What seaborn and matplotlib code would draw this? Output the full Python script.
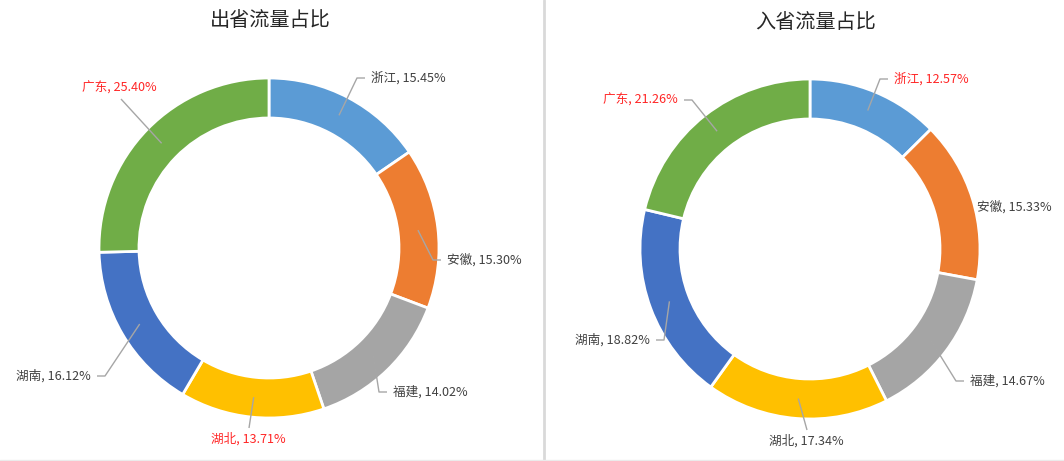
import numpy as np
import matplotlib
matplotlib.use("Agg")
import matplotlib.pyplot as plt
import seaborn as sns

# ---------------- data ----------------
provinces = ["浙江", "安徽", "福建", "湖北", "湖南", "广东"]
out_share = [15.45, 15.30, 14.02, 13.71, 16.12, 25.40]
in_share = [12.57, 15.33, 14.67, 17.34, 18.82, 21.26]
titles = ["出省流量占比", "入省流量占比"]
red_labels_out = ["广东", "湖北"]
red_labels_in = ["浙江", "广东"]

# ---------------- style ----------------
sns.set_theme(style="white")
plt.rcParams["font.family"] = ["Noto Sans CJK SC", "DejaVu Sans"]
colors = ["#5B9BD5", "#ED7D31", "#A5A5A5", "#FFC000", "#4472C4", "#70AD47"]

W, H = 1064, 461
fig = plt.figure(figsize=(W / 100, H / 100), dpi=100)
ax = fig.add_axes([0, 0, 1, 1])

R_OUT, R_IN = 170, 130
LEAD = "#A6A6A6"
TXT = "#404040"
RED = "#FF2626"

# layout (pixel coords from top-left): centre, title pos, label positions
layouts = [
    dict(center=(269, 248), title=(270, 21),
         labels=[(371, 78, "left", "h"), (447, 260, "left", "h"),
                 (393, 392, "left", "h"), (248, 439, "center", "v"),
                 (91, 376, "right", "h"), (157, 88, "right", "b")]),
    dict(center=(810, 249), title=(816, 23),
         labels=[(894, 79, "left", "h"), (977, 207, "left", None),
                 (970, 381, "left", "h"), (806, 441, "center", "v"),
                 (650, 340, "right", "h"), (678, 100, "right", "h")]),
]


def fy(y):
    return H - y


for values, title, reds, lay in zip([out_share, in_share], titles,
                                    [red_labels_out, red_labels_in], layouts):
    cx, cy = lay["center"]
    ax.pie(values, colors=colors, startangle=90, counterclock=False,
           radius=R_OUT, center=(cx, fy(cy)), frame=True,
           wedgeprops=dict(width=R_OUT - R_IN, edgecolor="white", linewidth=2))
    ax.text(lay["title"][0], fy(lay["title"][1]), title, ha="center", va="center",
            fontsize=14.5, color="#262626")
    total = sum(values)
    cum = 0.0
    for name, v, (tx, ty, ha, mode) in zip(provinces, values, lay["labels"]):
        mid = 90 - (cum + v / 2) / total * 360
        cum += v
        rm = (R_OUT + R_IN) / 2
        sx = cx + rm * np.cos(np.radians(mid))
        sy = cy - rm * np.sin(np.radians(mid))
        col = RED if name in reds else TXT
        ax.text(tx, fy(ty), f"{name}, {v:.2f}%", ha=ha, va="center",
                fontsize=9.1, color=col)
        if mode == "h":
            if ha == "left":
                pts = [(sx, sy), (tx - 14, ty), (tx - 6, ty)]
            else:
                pts = [(sx, sy), (tx + 14, ty), (tx + 6, ty)]
        elif mode == "v":
            pts = [(sx, sy), (tx + 1, ty - 11)]
        elif mode == "b":
            pts = [(sx, sy), (tx - 36, ty + 11)]
        else:
            pts = []
        if pts:
            ax.plot([p[0] for p in pts], [fy(p[1]) for p in pts],
                    color=LEAD, lw=1.0, solid_capstyle="butt")

ax.set_xlim(0, W)
ax.set_ylim(0, H)
ax.set_aspect("equal")
ax.axis("off")

# divider and bottom border
fig.add_artist(plt.Line2D([544 / W, 544 / W], [0, 1], color="#D9D9D9", lw=2))
fig.add_artist(plt.Line2D([0, 1], [1 / H, 1 / H], color="#EBEBEB", lw=1))

fig.savefig("out.png", dpi=100, facecolor="white")
